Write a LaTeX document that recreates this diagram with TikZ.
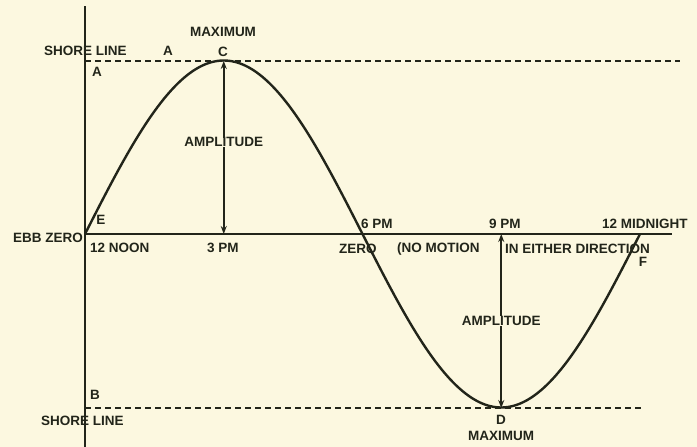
\documentclass[tikz,border=0pt]{standalone}
\usepackage{fontspec}
\setmainfont{Liberation Sans}
\usetikzlibrary{arrows.meta,calc}
\definecolor{paper}{HTML}{FCF8E0}
\definecolor{ink}{HTML}{22251A}
\tikzset{
  lbl/.style={font=\fontsize{13.5}{13.5}\selectfont\bfseries, text=ink, inner sep=0pt},
  axisline/.style={draw=ink, line width=2pt},
  shore/.style={draw=ink, line width=2pt, dash pattern=on 6pt off 4pt},
  wave/.style={draw=ink, line width=2.4pt},
  amp/.style={draw=ink, line width=1.6pt, arrows={Stealth[length=8pt,width=6pt]-Stealth[length=8pt,width=6pt]}},
}
\begin{document}
\begin{tikzpicture}[x=1pt,y=-1pt]
\fill[paper] (0,0) rectangle (697,447);
\useasboundingbox (0,0) rectangle (697,447);
% coordinates
\coordinate (vtop) at (85,6);
\coordinate (vbot) at (85,447);
\coordinate (o) at (85,234);
\coordinate (hend) at (672,234);
\coordinate (shA) at (85,61);
\coordinate (shAe) at (680,61);
\coordinate (shB) at (85,408);
\coordinate (shBe) at (642,408);
\coordinate (C) at (223.75,61);
\coordinate (C0) at (223.75,234);
\coordinate (D) at (501.25,408);
\coordinate (D0) at (501.25,234);
% axes
\draw[axisline] (vtop) -- (vbot);
\draw[axisline] (o) -- (hend);
\draw[shore] (shA) -- (shAe);
\draw[shore] (shB) -- (shBe);
% wave
\draw[wave] plot[smooth, domain=85:640, samples=120] (\x, {234-173.5*sin((\x-85)/555*360)});
% amplitude arrows
\draw[amp] (C) -- (C0);
\draw[amp] (D0) -- (D);
\node[fill=paper, inner sep=2pt, lbl] (amp1) at ($(C)!0.47!(C0)$) {AMPLITUDE};
\node[fill=paper, inner sep=2pt, lbl] (amp2) at ($(D0)!0.5!(D)$) {AMPLITUDE};
% labels
\node[lbl] (max1) at (223,32) {MAXIMUM};
\node[lbl] (c) at (223,52) {C};
\node[lbl, anchor=west] (sl1) at (44,51) {SHORE LINE};
\node[lbl] (a1) at (168,51) {A};
\node[lbl] (a2) at (97,72) {A};
\node[lbl] (e) at (101,220) {E};
\node[lbl, anchor=east] (ebb) at (83,238) {EBB ZERO};
\node[lbl, anchor=west] (noon) at (90,248) {12 NOON};
\node[lbl] (pm3) at (223,248) {3 PM};
\node[lbl, anchor=west] (pm6) at (361,224) {6 PM};
\node[lbl, anchor=west] (zero) at (339,249) {ZERO};
\node[lbl, anchor=west] (nomo) at (397,249) {(NO MOTION};
\node[lbl, anchor=west] (pm9) at (489,224) {9 PM};
\node[lbl, anchor=west] (either) at (505,249) {IN EITHER DIRECTION};
\node[lbl, anchor=west] (mid) at (602,224) {12 MIDNIGHT};
\node[lbl] (f) at (643,262) {F};
\node[lbl] (b) at (95,395) {B};
\node[lbl, anchor=west] (sl2) at (41,421) {SHORE LINE};
\node[lbl] (d) at (501,420) {D};
\node[lbl] (max2) at (501,436) {MAXIMUM};
\end{tikzpicture}
\end{document}
